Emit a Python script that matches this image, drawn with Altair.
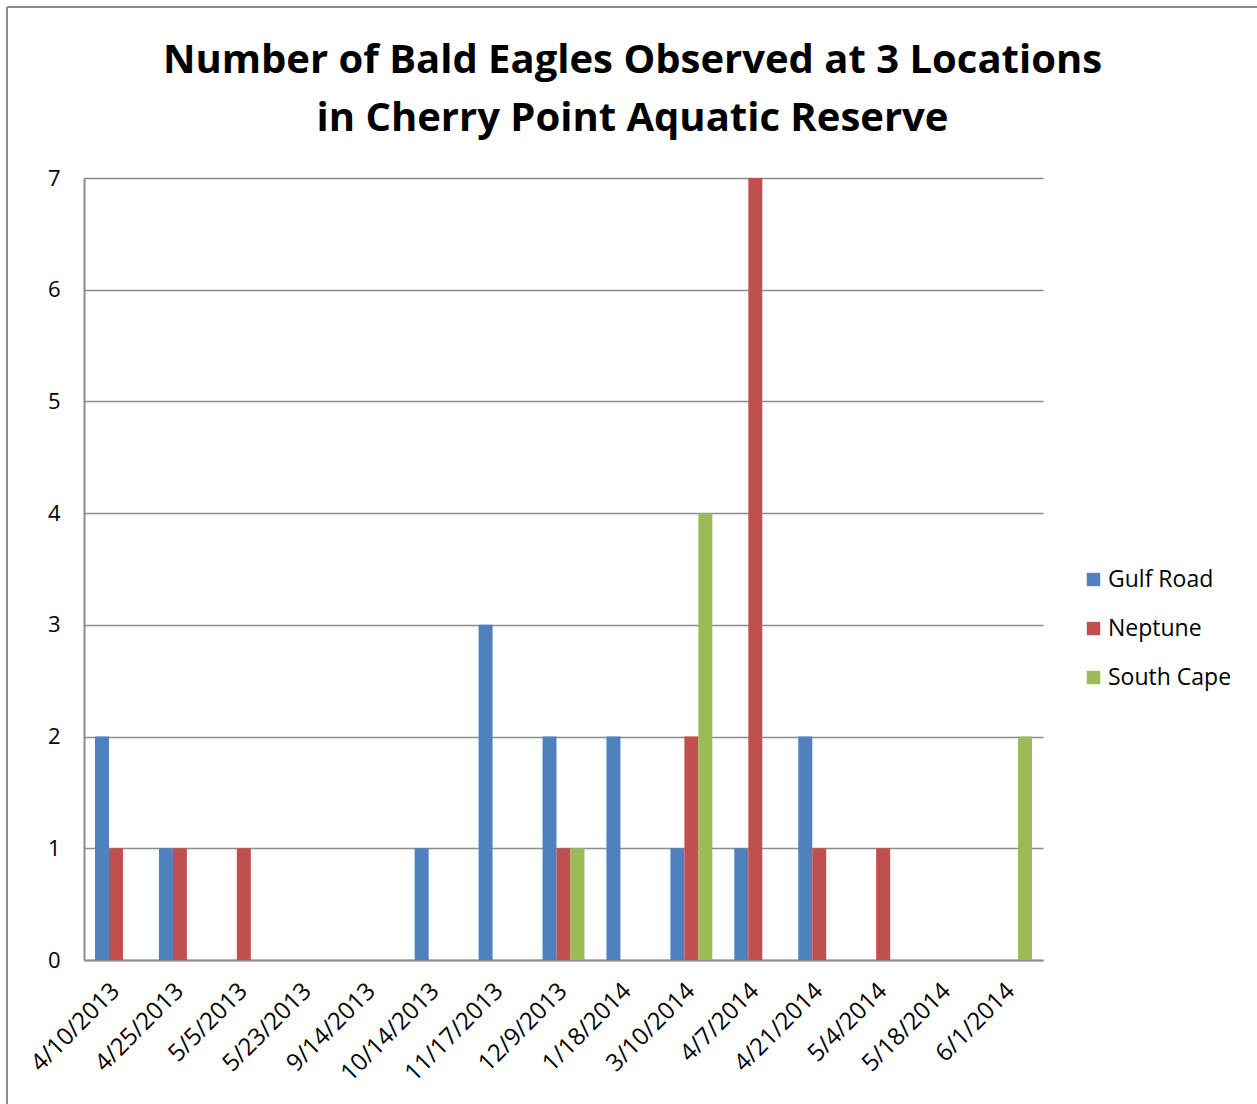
import altair as alt
import pandas as pd

# Survey dates (category axis) and eagle counts per location
dates = ["4/10/2013", "4/25/2013", "5/5/2013", "5/23/2013", "9/14/2013",
         "10/14/2013", "11/17/2013", "12/9/2013", "1/18/2014", "3/10/2014",
         "4/7/2014", "4/21/2014", "5/4/2014", "5/18/2014", "6/1/2014"]
gulf_road = [2, 1, 0, 0, 0, 1, 3, 2, 2, 1, 1, 2, 0, 0, 0]
neptune = [1, 1, 1, 0, 0, 0, 0, 1, 0, 2, 7, 1, 1, 0, 0]
south_cape = [0, 0, 0, 0, 0, 0, 0, 1, 0, 4, 0, 0, 0, 0, 2]

locations = ["Gulf Road", "Neptune", "South Cape"]
colors = ["#4F81BD", "#C0504D", "#9BBB59"]

rows = []
for i, d in enumerate(dates):
    for loc, series in zip(locations, [gulf_road, neptune, south_cape]):
        rows.append({"Date": d, "Location": loc, "Count": series[i]})
df = pd.DataFrame(rows)

FONT = "Open Sans"
GRID = "#8c8c8c"

bars = alt.Chart(df).mark_bar().encode(
    x=alt.X("Date:N", sort=dates,
            scale=alt.Scale(paddingInner=0.344, paddingOuter=0.172),
            axis=alt.Axis(title=None, labelAngle=-45, labelAlign="right",
                          labelBaseline="middle", labelPadding=27,
                          ticks=False, domainColor=GRID, domainWidth=2,
                          labelFontSize=24, labelColor="#000000",
                          labelFont=FONT, labelOverlap=False)),
    xOffset=alt.XOffset("Location:N", sort=locations,
                        scale=alt.Scale(paddingInner=0, paddingOuter=0)),
    y=alt.Y("Count:Q", scale=alt.Scale(domain=[0, 7], nice=False),
            axis=alt.Axis(title=None, values=list(range(8)), ticks=False,
                          domainColor=GRID, domainWidth=2,
                          gridColor=GRID, gridWidth=1.5, labelPadding=24,
                          labelFontSize=22, labelColor="#000000",
                          labelFont=FONT)),
    color=alt.Color("Location:N", sort=locations,
                    scale=alt.Scale(domain=locations, range=colors),
                    legend=alt.Legend(title=None, orient="none",
                                      legendX=998, legendY=390,
                                      symbolType="square", symbolSize=180,
                                      symbolStrokeWidth=0,
                                      rowPadding=25, labelFontSize=23,
                                      labelFont=FONT, labelColor="#000000",
                                      labelOffset=3)),
)

# Outer chart frame (top and left edges)
frame_top = alt.Chart().mark_rule(color=GRID, strokeWidth=2, clip=False).encode(
    x=alt.value(-77), x2=alt.value(1300), y=alt.value(-171))
frame_left = alt.Chart().mark_rule(color=GRID, strokeWidth=2, clip=False).encode(
    x=alt.value(-77), y=alt.value(-171), y2=alt.value(1000))

chart = alt.layer(bars, frame_top, frame_left).properties(
    width=959, height=782,
    autosize=alt.AutoSizeParams(type="none"),
    padding={"left": 84, "top": 178, "right": 214, "bottom": 144},
    title=alt.Title(
        ["Number of Bald Eagles Observed at 3 Locations",
         "in Cherry Point Aquatic Reserve"],
        font=FONT, fontSize=40, fontWeight="bold", color="#000000",
        lineHeight=58, anchor="middle", frame="group", dx=69, offset=-133),
).configure_view(stroke=None)

chart.save("out.html", embed_options={"renderer": "svg", "actions": False})
